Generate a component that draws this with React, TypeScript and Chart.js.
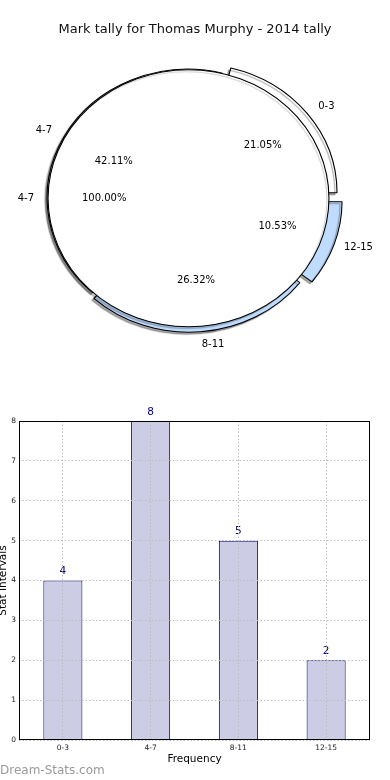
import React, { useEffect, useRef } from 'react';
import { Chart, registerables } from 'chart.js';

Chart.register(...registerables);

const FONT = '"DejaVu Sans", "Liberation Sans", sans-serif';
Chart.defaults.font.family = FONT;

// ---------- data ----------
const titleText = 'Mark tally for Thomas Murphy - 2014 tally';
const categories = ['0-3', '4-7', '8-11', '12-15'];
const tallies = [4, 8, 5, 2];
const sliceColors = ['#ffffff', '#ffffff', '#bfdcff', '#bfdcff'];
const sliceExplode = [9, 0.6, 5.5, 9];
const innerCategories = ['4-7'];
const innerValues = [100];
const innerColors = ['#ffffff'];
const yTickValues = [0, 1, 2, 3, 4, 5, 6, 7, 8];
const xAxisTitle = 'Frequency';
const yAxisTitle = 'Stat Intervals';
const watermark = 'Dream-Stats.com';

// ---------- styling constants ----------
const SX = 1.093;
const PIE_RADIUS = 128.5;

const total = tallies.reduce((a, b) => a + b, 0);
const pct = (v: number, t: number) => ((v / t) * 100).toFixed(2) + '%';

// matplotlib draws counter-clockwise from 3 o'clock; Chart.js draws clockwise,
// so the outer pie uses the reversed order starting at 3 o'clock.
const rev = [3, 2, 1, 0];
const outerLabels = rev.map((i) => categories[i]);
const outerValues = rev.map((i) => tallies[i]);
const outerColors = rev.map((i) => sliceColors[i]);
const outerShift = rev.map((i) => sliceExplode[i]);
const outerPct = rev.map((i) => pct(tallies[i], total));
const innerTotal = innerValues.reduce((a, b) => a + b, 0);
const innerPct = innerValues.map((v) => pct(v, innerTotal));

function makeEllipsePlugin(shadowAlpha: number) {
  return {
    id: 'ellipse',
    afterLayout(chart: any) {
      const a = chart.chartArea;
      a.left -= 6.5;
      a.right -= 6.5;
    },
    beforeDatasetsDraw(chart: any) {
      const arc = chart.getDatasetMeta(0).data[0];
      const ctx = chart.ctx;
      ctx.save();
      ctx.translate(arc.x, arc.y);
      ctx.scale(SX, 1);
      ctx.translate(-arc.x, -arc.y);
      ctx.shadowColor = 'rgba(0,0,0,' + shadowAlpha + ')';
      ctx.shadowOffsetX = -2;
      ctx.shadowOffsetY = 2;
      ctx.shadowBlur = 1;
    },
    afterDatasetsDraw(chart: any) {
      chart.ctx.restore();
    },
  };
}

function drawPieLabels(ctx: any, chart: any, names: string[], pcts: string[], shifts: number[]) {
  const meta = chart.getDatasetMeta(0);
  meta.data.forEach((arc: any, i: number) => {
    const mid = (arc.startAngle + arc.endAngle) / 2;
    const c = Math.cos(mid);
    const s = Math.sin(mid);
    const dl = arc.outerRadius * 1.1 + shifts[i];
    ctx.textAlign = c >= 0 ? 'left' : 'right';
    ctx.fillText(names[i], arc.x + SX * dl * c, arc.y + dl * s);
    const dp = arc.outerRadius * 0.6 + shifts[i];
    ctx.textAlign = 'center';
    ctx.fillText(pcts[i], arc.x + SX * dp * c, arc.y + dp * s);
  });
}

const holder: { outer: Chart | null } = { outer: null };

const pieLabelPlugin = {
  id: 'pieLabels',
  afterDraw(chart: any) {
    const ctx = chart.ctx;
    ctx.save();
    ctx.font = '10px ' + FONT;
    ctx.fillStyle = '#000';
    ctx.textBaseline = 'middle';
    if (holder.outer) drawPieLabels(ctx, holder.outer, outerLabels, outerPct, outerShift);
    drawPieLabels(ctx, chart, innerCategories, innerPct, [0]);
    ctx.restore();
  },
};

const framePlugin = {
  id: 'frame',
  afterDraw(chart: any) {
    const a = chart.chartArea;
    const ctx = chart.ctx;
    ctx.save();
    ctx.strokeStyle = '#000';
    ctx.lineWidth = 1;
    ctx.setLineDash([]);
    const l = Math.round(a.left) + 0.5;
    const t = Math.round(a.top) + 0.5;
    const r = Math.round(a.right) - 0.5;
    const b = Math.round(a.bottom) - 0.5;
    ctx.strokeRect(l, t, r - l, b - t);
    ctx.restore();
  },
};

const valueLabelPlugin = {
  id: 'valueLabels',
  afterDatasetsDraw(chart: any) {
    const ctx = chart.ctx;
    const meta = chart.getDatasetMeta(0);
    const values = chart.data.datasets[0].data;
    ctx.save();
    ctx.font = '10.5px ' + FONT;
    ctx.fillStyle = '#000080';
    ctx.textAlign = 'center';
    ctx.textBaseline = 'middle';
    meta.data.forEach((bar: any, i: number) => {
      ctx.fillText(String(values[i]), bar.x, bar.y - 9);
    });
    ctx.restore();
  },
};

export default function App() {
  const outerRef = useRef<HTMLCanvasElement>(null);
  const innerRef = useRef<HTMLCanvasElement>(null);
  const barRef = useRef<HTMLCanvasElement>(null);

  useEffect(() => {
    const charts: Chart[] = [];

    const outer = new Chart(outerRef.current!, {
      type: 'pie',
      data: {
        labels: outerLabels,
        datasets: [
          {
            data: outerValues,
            backgroundColor: outerColors,
            borderColor: '#000',
            borderWidth: 1,
            offset: outerShift.map((s) => s * 4),
            clip: false,
          } as any,
        ],
      },
      options: {
        responsive: false,
        animation: false,
        rotation: 90,
        radius: PIE_RADIUS,
        layout: { padding: { top: 0, left: 0, right: 0, bottom: 21 } },
        plugins: {
          legend: { display: false },
          tooltip: { enabled: false },
          title: {
            display: true,
            text: titleText,
            color: '#111',
            font: { size: 13, weight: 'normal', family: FONT },
            padding: { top: 22, bottom: 0 },
          },
        },
      } as any,
      plugins: [makeEllipsePlugin(0.35)],
    });
    holder.outer = outer;
    charts.push(outer);

    charts.push(
      new Chart(innerRef.current!, {
        type: 'pie',
        data: {
          labels: innerCategories,
          datasets: [
            {
              data: innerValues,
              backgroundColor: innerColors,
              borderColor: '#000',
              borderWidth: 1,
              // stroke only the rim (no radial seam on the full-circle slice)
              borderDash: [2 * Math.PI * PIE_RADIUS, 100000],
              clip: false,
            } as any,
          ],
        },
        options: {
          responsive: false,
          animation: false,
          rotation: 90,
          radius: PIE_RADIUS,
          layout: { padding: { top: 37.6, left: 0, right: 0, bottom: 21 } },
          plugins: {
            legend: { display: false },
            tooltip: { enabled: false },
          },
        } as any,
        plugins: [makeEllipsePlugin(0.2), pieLabelPlugin],
      })
    );

    const gridColor = '#bdbdbd';
    charts.push(
      new Chart(barRef.current!, {
        type: 'bar',
        data: {
          labels: categories,
          datasets: [
            {
              data: tallies,
              backgroundColor: '#ccccE4',
              borderColor: '#000080',
              borderWidth: 1,
              barPercentage: 0.445,
              categoryPercentage: 1,
            },
          ],
        },
        options: {
          responsive: false,
          animation: false,
          layout: { padding: { left: 0, right: 20, top: 29, bottom: 14 } },
          plugins: {
            legend: { display: false },
            tooltip: { enabled: false },
          },
          scales: {
            x: {
              grid: { offset: false, color: gridColor, lineWidth: 1, drawTicks: false, z: 1 },
              border: { display: false, dash: [1.5, 2] },
              ticks: { font: { size: 7.5, family: FONT }, color: '#222', padding: 3.5 },
              title: {
                display: true,
                text: xAxisTitle,
                color: '#000',
                font: { size: 10.5, family: FONT },
                padding: { top: 0, bottom: 0 },
              },
              afterFit(s: any) {
                s.height = 26;
              },
            },
            y: {
              min: yTickValues[0],
              max: yTickValues[yTickValues.length - 1],
              grid: { color: gridColor, lineWidth: 1, drawTicks: false, z: 1 },
              border: { display: false, dash: [1.5, 2] },
              ticks: {
                stepSize: yTickValues[1] - yTickValues[0],
                font: { size: 7.5, family: FONT },
                color: '#222',
                padding: 3,
              },
              title: {
                display: true,
                text: yAxisTitle,
                color: '#000',
                font: { size: 10.5, family: FONT },
                padding: { top: 1, bottom: 0 },
              },
              afterFit(s: any) {
                s.width = 23;
              },
            },
          },
        } as any,
        plugins: [framePlugin, valueLabelPlugin],
      })
    );

    return () => {
      holder.outer = null;
      charts.forEach((c) => c.destroy());
    };
  }, []);

  return (
    <div
      style={{
        position: 'absolute',
        left: 0,
        top: 0,
        width: 390,
        height: 780,
        overflow: 'hidden',
        background: '#fff',
      }}
    >
      <canvas
        ref={outerRef}
        width={390}
        height={380}
        style={{ position: 'absolute', left: 0, top: 0 }}
      />
      <canvas
        ref={innerRef}
        width={390}
        height={380}
        style={{ position: 'absolute', left: 0, top: 0 }}
      />
      <canvas
        ref={barRef}
        width={394}
        height={388}
        style={{ position: 'absolute', left: -4, top: 392 }}
      />
      <div
        style={{
          position: 'absolute',
          left: 0,
          top: 762,
          fontFamily: FONT,
          fontSize: 12,
          lineHeight: '16px',
          color: '#9a9a9a',
          whiteSpace: 'nowrap',
        }}
      >
        {watermark}
      </div>
    </div>
  );
}
